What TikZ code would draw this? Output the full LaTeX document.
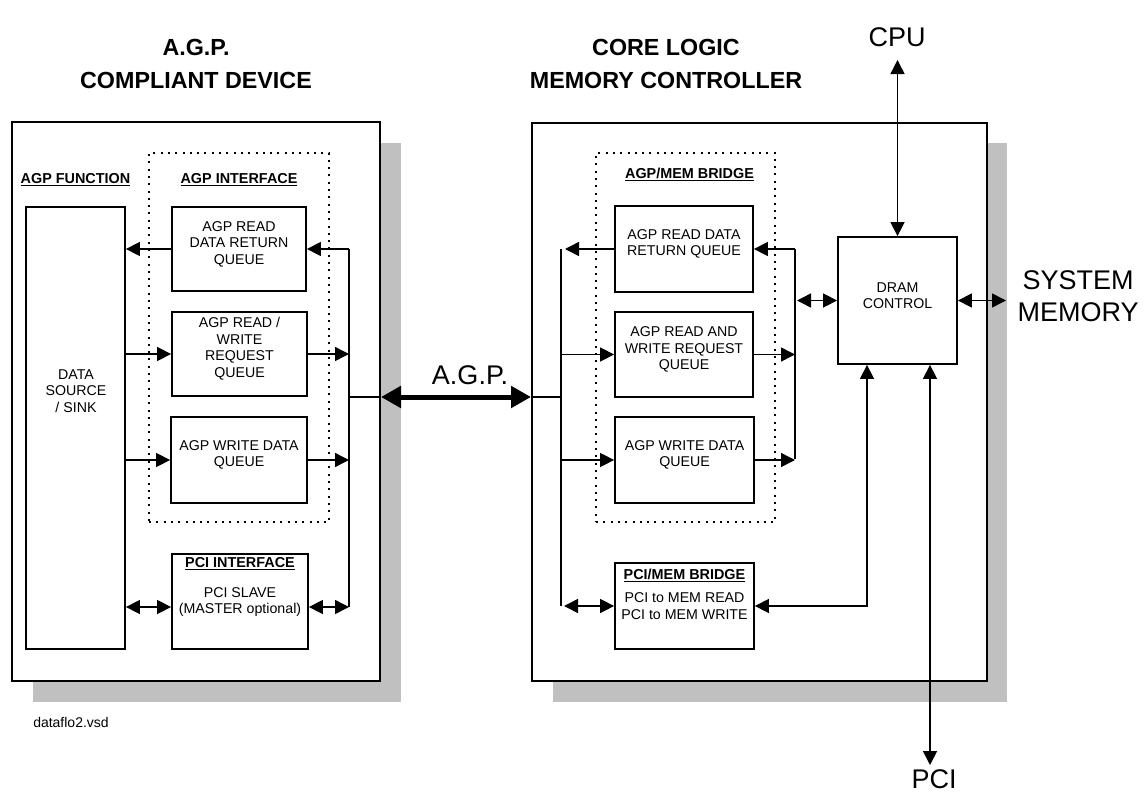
\documentclass[tikz,border=0pt]{standalone}
\usepackage{fontspec}
\setmainfont{Liberation Sans}
\usetikzlibrary{arrows.meta,fit,calc}
\definecolor{shadowgray}{RGB}{192,192,192}

\begin{document}
\begin{tikzpicture}[x=1pt,y=-1pt,
  every node/.style={font=\fontsize{14.2}{16.5}\selectfont, inner sep=0pt, align=center},
  box/.style={draw, line width=1.8pt, fill=white},
  devbox/.style={draw, line width=2pt, fill=white},
  grp/.style={draw, line width=2pt, dash pattern=on 2pt off 5.3pt},
  shadowfill/.style={fill=shadowgray},
  wire/.style={line width=1.5pt},
  arr/.style={wire, -{Triangle[length=14pt,width=14pt]}},
  darr/.style={wire, {Triangle[length=14pt,width=14pt]}-{Triangle[length=14pt,width=14pt]}},
  bigarr/.style={line width=5pt, {Triangle[length=20pt,width=21pt]}-{Triangle[length=20pt,width=21pt]}},
  hdg/.style={font=\fontsize{14.4}{16}\selectfont\bfseries},
  ttl/.style={font=\fontsize{23.3}{33}\selectfont\bfseries},
  bigtxt/.style={font=\fontsize{27}{32}\selectfont},
]
\useasboundingbox (0,0) rectangle (1145,792);

% ---------- headings ----------
\node[ttl] (ttlL) at (196,63.5) {A.G.P.\\COMPLIANT DEVICE};
\node[ttl] (ttlR) at (666,63.5) {CORE LOGIC\\MEMORY CONTROLLER};

% ---------- shadows ----------
\fill[shadowfill] (33,143) rectangle (401,702);
\fill[shadowfill] (553,143) rectangle (1007,702);

% ---------- device outlines ----------
\node[devbox, fit={(12,122) (380,681)}] (devL) {};
\node[devbox, fit={(532,123) (987,681)}] (devR) {};

% ---------- left device ----------
\node[grp, fit={(149,153) (329,522)}] (ifaceL) {};
\node[hdg] (fnhdg) at (75.5,180) {\underline{AGP FUNCTION}};
\node[hdg] (ifhdg) at (239,180) {\underline{AGP INTERFACE}};

\node[box, fit={(26,207) (125,649)}] (src) {};
\node (srctxt) at (76,391) {DATA\\SOURCE\\/ SINK};

\node[box, fit={(172,207) (306,291)}] (rdqL) {AGP READ\\DATA RETURN\\QUEUE};
\node[box, fit={(172,312) (307,396)}] (rwqL) {AGP READ /\\WRITE\\REQUEST\\QUEUE};
\node[box, fit={(171,417) (307,503)}] (wdqL) {AGP WRITE DATA\\QUEUE};
\node[box, fit={(172,554) (308,649)}] (pciL) {};
\node[hdg] (pciLhdg) at (240,564) {\underline{PCI INTERFACE}};
\node (pciLtxt) at (240,602) {PCI SLAVE\\(MASTER optional)};

\coordinate (busLtop) at (349,249);
\coordinate (busLbot) at (349,607);
\coordinate (agpL) at (349,397);

\draw[wire] (busLtop) -- (busLbot);
\draw[arr] (rdqL.west) -- (rdqL.west -| src.east);
\draw[arr] (busLtop) -- (rdqL.east |- busLtop);
\draw[arr] (src.east |- rwqL.west) -- (rwqL.west);
\draw[arr] (rwqL.east) -- (rwqL.east -| busLtop);
\draw[arr] (src.east |- wdqL.west) -- (wdqL.west);
\draw[arr] (wdqL.east) -- (wdqL.east -| busLtop);
\draw[darr] (src.east |- busLbot) -- (pciL.west |- busLbot);
\draw[darr] (pciL.east |- busLbot) -- (busLbot);

\node (vsd) at (71,722) {\fontsize{14}{16}\selectfont dataflo2.vsd};

% ---------- right device ----------
\node[grp, fit={(596,153) (775,522)}] (bridgeR) {};
\node[hdg] (brhdg) at (689.5,174) {\underline{AGP/MEM BRIDGE}};

\node[box, fit={(615,206) (753,292)}] (rdqR) {AGP READ DATA\\RETURN QUEUE};
\node[box, fit={(615,312) (753,397)}] (rwqR) {AGP READ AND\\WRITE REQUEST\\QUEUE};
\node[box, fit={(615,417) (754,503)}] (wdqR) {AGP WRITE DATA\\QUEUE};
\node[box, fit={(615,563) (754,649)}] (pciR) {};
\node[hdg] (pciRhdg) at (684.5,575) {\underline{PCI/MEM BRIDGE}};
\node (pciRtxt) at (684.5,606) {PCI to MEM READ\\PCI to MEM WRITE};

\node[box, fit={(838,237) (957,364)}] (dram) {DRAM\\CONTROL};

\coordinate (busRatop) at (561,249);
\coordinate (busRabot) at (561,606);
\coordinate (busRbtop) at (795,249);
\coordinate (busRbbot) at (795,459);
\coordinate (mergeX) at (867,606);
\coordinate (cpuEnd) at (897.5,60);
\coordinate (pciEnd) at (930,765);
\coordinate (memEnd) at (1006,300.5);

\draw[wire] (busRatop) -- (busRabot);
\draw[arr] (rdqR.west) -- ($(busRatop)+(4,0)$);
\draw[arr] (busRatop |- rwqR.west) -- (rwqR.west);
\draw[arr] (busRatop |- wdqR.west) -- (wdqR.west);
\draw[darr] ($(busRabot)+(3,0)$) -- (pciR.west |- busRabot);

\draw[wire] (busRbtop) -- (busRbbot);
\draw[arr] (busRbtop) -- (rdqR.east |- busRbtop);
\draw[arr] (rwqR.east) -- (rwqR.east -| busRbtop);
\draw[arr] (wdqR.east) -- (wdqR.east -| busRbtop);
\draw[darr] ($(busRbtop |- dram.west)+(2,0)$) -- (dram.west);

\draw[darr] (dram.east) -- (memEnd);
\draw[darr] (cpuEnd) -- (dram.north);
\draw[darr] (pciR.east) -- (mergeX) -- (mergeX |- dram.south);
\draw[darr] (pciEnd) -- (pciEnd |- dram.south);

% ---------- A.G.P. link ----------
\draw[wire] (agpL) -- (agpL -| devL.east);
\draw[bigarr] (agpL -| devL.east) -- (agpL -| devR.west);
\draw[wire] (agpL -| devR.west) -- (agpL -| busRatop);
\node[bigtxt] (agplbl) at (470,375) {A.G.P.};

% ---------- external labels ----------
\node[bigtxt] (cpu) at (897,37) {CPU};
\node[bigtxt] (pci) at (934,779) {PCI};
\node[bigtxt] (sysmem) at (1078,296) {SYSTEM\\MEMORY};
\end{tikzpicture}
\end{document}
